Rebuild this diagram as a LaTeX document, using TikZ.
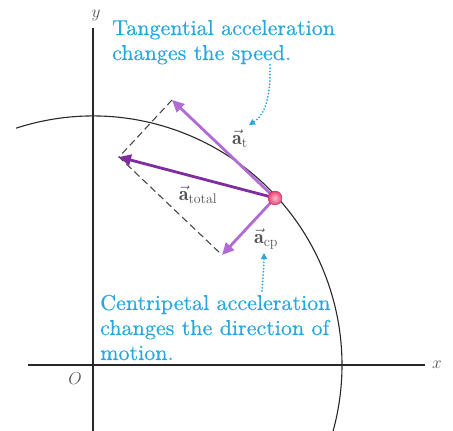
\documentclass[tikz,border=0pt]{standalone}
\usepackage{fontspec}
\newfontfamily\notefont{lmroman10-regular.otf}[FakeStretch=1.025,FakeBold=0.5]
\usetikzlibrary{arrows.meta,calc}
\definecolor{cyantext}{RGB}{40,168,222}
\definecolor{lvec}{RGB}{176,108,210}
\definecolor{dvec}{RGB}{128,44,160}
\definecolor{pink}{RGB}{236,64,112}
\definecolor{ink}{RGB}{40,40,40}
\begin{document}
\begin{tikzpicture}[x=1pt,y=1pt,
  axis/.style={draw=ink, line width=1.1pt},
  circline/.style={draw=ink, line width=1.1pt},
  dashline/.style={draw=ink!85, line width=1.1pt, dash pattern=on 7pt off 4pt},
  lightvec/.style={draw=lvec, line width=2.8pt, -{Triangle[length=12pt,width=11pt]}},
  darkvec/.style={draw=dvec, line width=2.8pt, -{Triangle[length=12pt,width=11pt]}},
  note/.style={text=cyantext, align=left, inner sep=0pt, font=\notefont\fontsize{21.5}{25}\selectfont},
  pointer/.style={draw=cyantext, line width=2pt, dash pattern=on 0pt off 3.2pt, line cap=round, -{Triangle[length=6pt,width=6pt]}},
  veclabel/.style={text=ink!80, inner sep=0pt, font=\fontsize{20}{22}\selectfont},
  axlabel/.style={text=ink!80, inner sep=0pt, font=\fontsize{16}{16}\selectfont}]
\useasboundingbox (0,0) rectangle (453,431);
\fill[white] (0,0) rectangle (453,431);
% axes
\coordinate (O) at (93,66);
\coordinate (ybot) at (93,0);
\coordinate (ytop) at (93,403);
\coordinate (xleft) at (28,66);
\coordinate (xright) at (425,66);
\draw[axis] (ybot) -- (ytop);
\draw[axis] (xleft) -- (xright);
\node[axlabel] (ylab) at (96,416) {$y$};
\node[axlabel] (xlab) at (437,66) {$x$};
\node[axlabel] (olab) at (75,52) {$O$};
% circle
\draw[circline] (O) ++(108:249) arc[start angle=108,end angle=-16,radius=249];
% vectors
\coordinate (P) at (275,233);
\coordinate (T) at (172,331);
\coordinate (C) at (222,176);
\coordinate (A) at ($(T)+(C)-(P)$);
\draw[dashline] (T) -- (A) -- (C);
\draw[lightvec] (P) -- (T);
\draw[lightvec] (P) -- (C);
\draw[darkvec] (P) -- (A);
\node[circle, minimum size=14pt, inner sep=0pt, draw=pink!80!black, line width=0.4pt, inner color=pink!35!white, outer color=pink] (p) at (P) {};
% labels
\node[veclabel] (at) at (240,292) {$\vec{\mathbf{a}}_{\mathrm{t}}$};
\node[veclabel] (atot) at (198,236) {$\vec{\mathbf{a}}_{\mathrm{total}}$};
\node[veclabel] (acp) at (266,192) {$\vec{\mathbf{a}}_{\mathrm{cp}}$};
% notes
\node[note, anchor=base west] (tnote) at (112,371) {Tangential acceleration\\changes the speed.};
\node[note, anchor=base west] (cnote) at (100,71) {Centripetal acceleration\\changes the direction of\\motion.};
\coordinate (tstart) at (270,366);
\coordinate (tend) at (249,306);
\coordinate (cstart) at (262,140);
\coordinate (cend) at (264,178);
\draw[pointer] (tstart) .. controls (271,335) and (265,316) .. (tend);
\draw[pointer] (cstart) .. controls (263,155) and (264,165) .. (cend);
\end{tikzpicture}
\end{document}
